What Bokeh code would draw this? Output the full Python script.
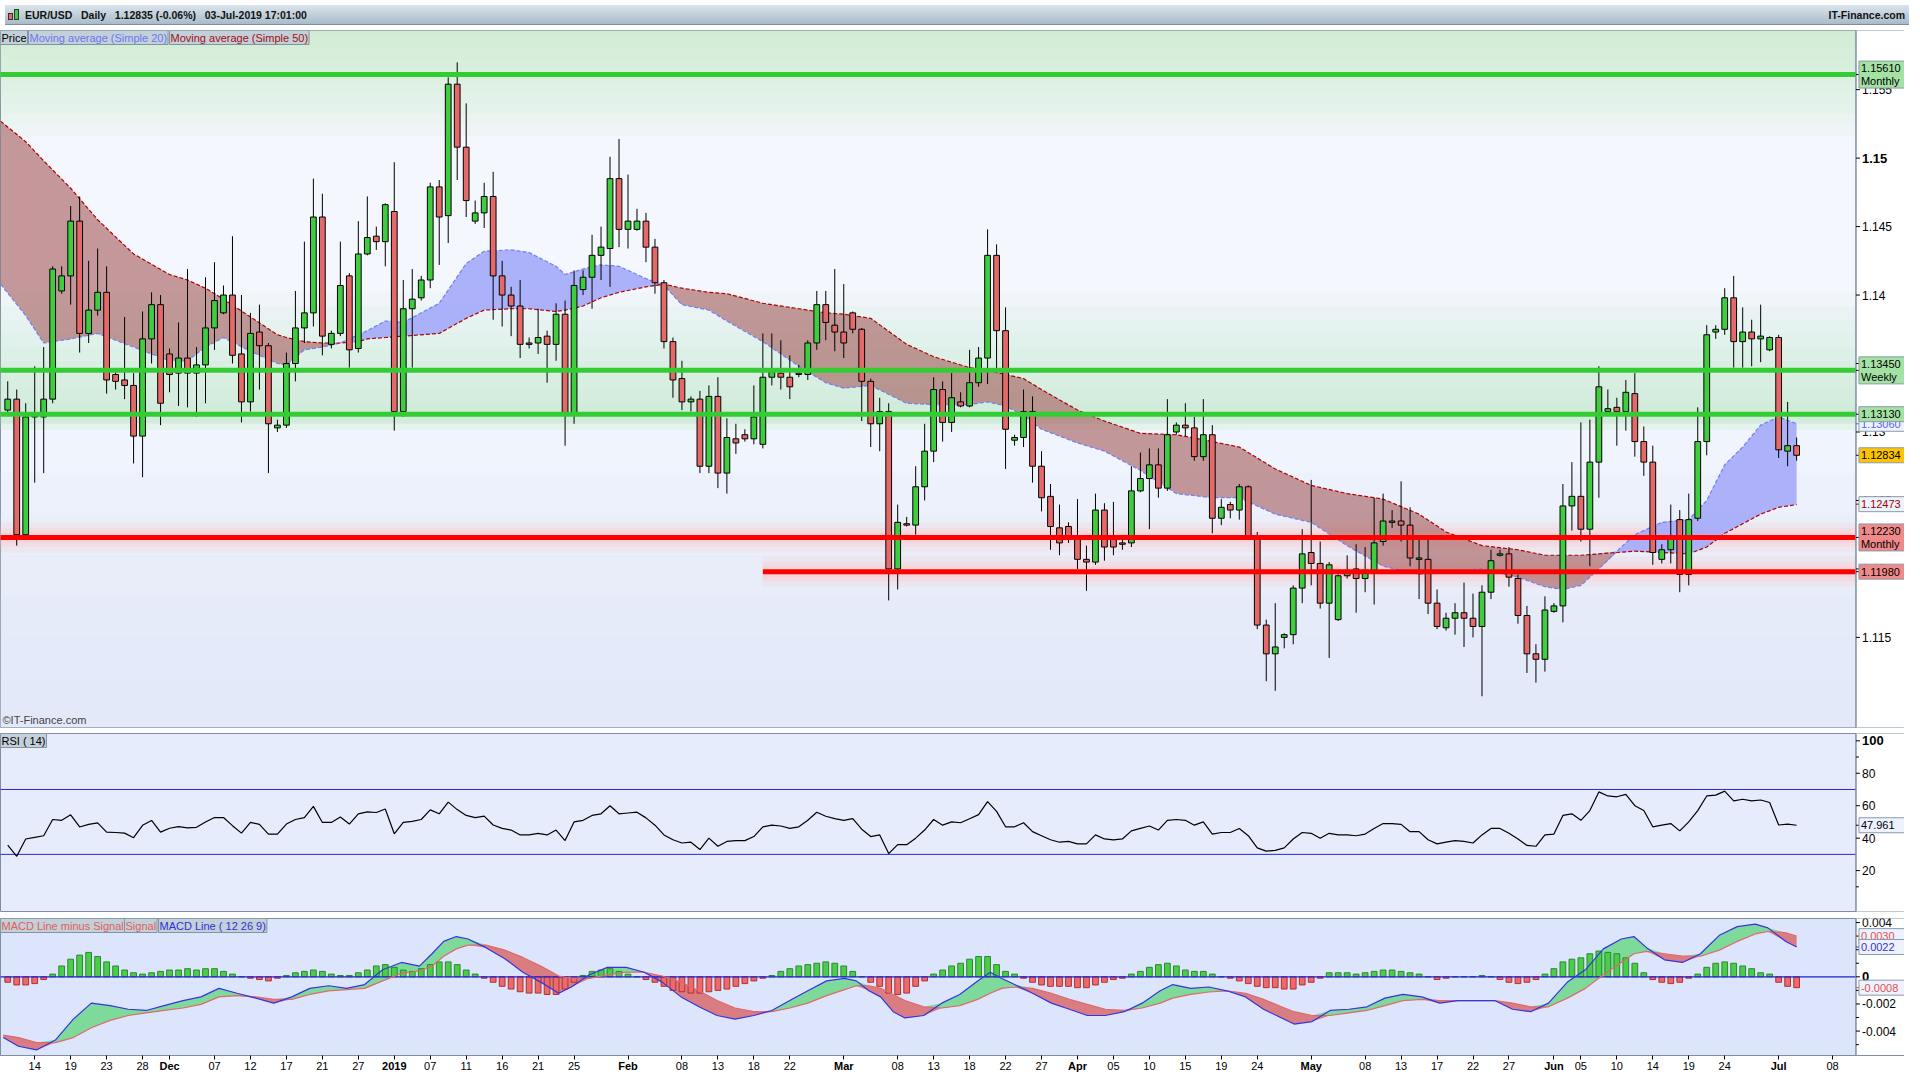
import numpy as np
from bokeh.plotting import figure
from bokeh.models import Range1d, Label, FixedTicker, Div, LinearAxis
from bokeh.layouts import column
from bokeh.embed import file_html
from bokeh.resources import INLINE
from bokeh.core.properties import value

# ---------------- data (EUR/USD daily, index = trading session) ----------------
open_p = [1.1316,1.1324,1.1225,1.1311,1.1311,1.1324,1.1403,1.1414,1.1454,1.1372,
          1.1389,1.1402,1.1342,1.1338,1.1334,1.1297,1.1368,1.1393,1.1357,1.1343,
          1.1354,1.1343,1.1349,1.1376,1.1387,1.1400,1.1357,1.1322,1.1373,1.1363,
          1.1303,1.1305,1.1350,1.1376,1.1387,1.1457,1.1364,1.1372,1.1414,1.1361,
          1.1430,1.1443,1.1439,1.1461,1.1315,1.1390,1.1398,1.1411,1.1479,1.1458,
          1.1554,1.1508,1.1454,1.1460,1.1472,1.1414,1.1400,1.1392,1.1365,1.1365,
          1.1370,1.1364,1.1386,1.1313,1.1404,1.1413,1.1429,1.1434,1.1485,1.1448,
          1.1448,1.1454,1.1435,1.1409,1.1366,1.1339,1.1322,1.1324,1.1275,1.1326,
          1.1270,1.1295,1.1298,1.1295,1.1291,1.1340,1.1343,1.1340,1.1343,1.1342,
          1.1365,1.1393,1.1378,1.1373,1.1387,1.1375,1.1337,1.1306,1.1315,1.1200,
          1.1233,1.1232,1.1260,1.1286,1.1331,1.1307,1.1322,1.1319,1.1336,1.1354,
          1.1429,1.1374,1.1294,1.1296,1.1315,1.1275,1.1253,1.1230,1.1231,1.1224,
          1.1207,1.1205,1.1243,1.1222,1.1219,1.1219,1.1257,1.1266,1.1276,1.1259,
          1.1300,1.1305,1.1303,1.1282,1.1298,1.1237,1.1247,1.1243,1.1260,1.1224,
          1.1159,1.1138,1.1150,1.1152,1.1186,1.1212,1.1204,1.1175,1.1163,1.1195,
          1.1200,1.1193,1.1199,1.1220,1.1234,1.1235,1.1232,1.1207,1.1207,1.1175,
          1.1157,1.1164,1.1168,1.1164,1.1158,1.1183,1.1210,1.1211,1.1193,1.1166,
          1.1138,1.1134,1.1169,1.1173,1.1246,1.1253,1.1229,1.1278,1.1315,1.1318,
          1.1315,1.1328,1.1293,1.1278,1.1207,1.1214,1.1236,1.1196,1.1237,1.1293,
          1.1373,1.1375,1.1398,1.1366,1.1373,1.1368,1.1360,1.1369,1.1286,1.1290]
high_p = [1.1337,1.1331,1.1321,1.1348,1.1362,1.1421,1.1421,1.1465,1.1472,1.1425,
          1.1434,1.1421,1.1345,1.1384,1.1343,1.1388,1.1402,1.1400,1.1361,1.1380,
          1.1419,1.1362,1.1413,1.1424,1.1407,1.1443,1.1400,1.1387,1.1393,1.1365,
          1.1309,1.1358,1.1403,1.1439,1.1485,1.1474,1.1374,1.1439,1.1416,1.1454,
          1.1472,1.1450,1.1467,1.1497,1.1411,1.1419,1.1414,1.1482,1.1484,1.1559,
          1.1570,1.1540,1.1469,1.1482,1.1490,1.1425,1.1406,1.1411,1.1369,1.1390,
          1.1374,1.1394,1.1396,1.1418,1.1418,1.1444,1.1450,1.1501,1.1514,1.1488,
          1.1463,1.1460,1.1441,1.1411,1.1369,1.1352,1.1326,1.1330,1.1334,1.1340,
          1.1310,1.1306,1.1302,1.1334,1.1372,1.1372,1.1367,1.1356,1.1349,1.1367,
          1.1403,1.1403,1.1419,1.1408,1.1388,1.1376,1.1339,1.1325,1.1321,1.1247,
          1.1238,1.1275,1.1306,1.1340,1.1337,1.1343,1.1329,1.1360,1.1362,1.1448,
          1.1437,1.1391,1.1298,1.1331,1.1326,1.1286,1.1262,1.1247,1.1234,1.1251,
          1.1217,1.1255,1.1248,1.1249,1.1224,1.1275,1.1285,1.1288,1.1288,1.1324,
          1.1307,1.1321,1.1311,1.1324,1.1305,1.1251,1.1249,1.1262,1.1261,1.1227,
          1.1163,1.1175,1.1153,1.1188,1.1229,1.1265,1.1220,1.1205,1.1196,1.1210,
          1.1218,1.1216,1.1252,1.1255,1.1243,1.1264,1.1245,1.1222,1.1222,1.1185,
          1.1168,1.1175,1.1190,1.1182,1.1188,1.1214,1.1214,1.1216,1.1196,1.1173,
          1.1145,1.1180,1.1175,1.1262,1.1278,1.1307,1.1309,1.1348,1.1331,1.1325,
          1.1338,1.1343,1.1304,1.1290,1.1218,1.1247,1.1243,1.1255,1.1318,1.1378,
          1.1378,1.1405,1.1414,1.1391,1.1382,1.1393,1.1370,1.1371,1.1322,1.1296]
low_p = [1.1314,1.1217,1.1224,1.1263,1.1270,1.1321,1.1401,1.1393,1.1358,1.1365,
         1.1385,1.1328,1.1331,1.1324,1.1277,1.1267,1.1350,1.1305,1.1329,1.1319,
         1.1318,1.1311,1.1321,1.1360,1.1386,1.1350,1.1307,1.1315,1.1331,1.1270,
         1.1300,1.1303,1.1337,1.1365,1.1377,1.1356,1.1361,1.1370,1.1347,1.1358,
         1.1429,1.1433,1.1421,1.1301,1.1311,1.1347,1.1396,1.1405,1.1422,1.1438,
         1.1484,1.1457,1.1452,1.1449,1.1382,1.1377,1.1370,1.1354,1.1361,1.1357,
         1.1336,1.1352,1.1290,1.1306,1.1400,1.1390,1.1411,1.1406,1.1435,1.1434,
         1.1447,1.1424,1.1401,1.1361,1.1325,1.1316,1.1315,1.1270,1.1270,1.1259,
         1.1255,1.1284,1.1293,1.1291,1.1288,1.1334,1.1331,1.1324,1.1340,1.1338,
         1.1360,1.1367,1.1359,1.1354,1.1372,1.1308,1.1289,1.1286,1.1177,1.1185,
         1.1231,1.1225,1.1250,1.1278,1.1293,1.1300,1.1318,1.1318,1.1333,1.1335,
         1.1343,1.1273,1.1290,1.1289,1.1263,1.1242,1.1214,1.1210,1.1219,1.1200,
         1.1184,1.1203,1.1206,1.1210,1.1214,1.1216,1.1256,1.1229,1.1252,1.1257,
         1.1298,1.1297,1.1279,1.1279,1.1226,1.1232,1.1237,1.1236,1.1222,1.1156,
         1.1118,1.1111,1.1142,1.1145,1.1175,1.1188,1.1171,1.1135,1.1162,1.1193,
         1.1168,1.1183,1.1174,1.1217,1.1230,1.1220,1.1202,1.1178,1.1167,1.1156,
         1.1155,1.1152,1.1143,1.1150,1.1107,1.1178,1.1209,1.1187,1.1160,1.1124,
         1.1117,1.1125,1.1168,1.1161,1.1228,1.1220,1.1202,1.1252,1.1313,1.1290,
         1.1301,1.1282,1.1268,1.1203,1.1204,1.1204,1.1183,1.1188,1.1235,1.1283,
         1.1368,1.1371,1.1347,1.1347,1.1348,1.1351,1.1359,1.1281,1.1275,1.1279]
close_p = [1.1324,1.1225,1.1311,1.1312,1.1324,1.1419,1.1414,1.1454,1.1372,1.1389,
           1.1402,1.1338,1.1337,1.1334,1.1297,1.1368,1.1393,1.1321,1.1342,1.1354,
           1.1343,1.1349,1.1376,1.1396,1.1400,1.1356,1.1322,1.1372,1.1363,1.1306,
           1.1305,1.1350,1.1376,1.1387,1.1457,1.1370,1.1372,1.1407,1.1360,1.1430,
           1.1442,1.1439,1.1466,1.1315,1.1390,1.1397,1.1411,1.1479,1.1457,1.1554,
           1.1508,1.1469,1.1460,1.1472,1.1414,1.1400,1.1392,1.1364,1.1364,1.1369,
           1.1364,1.1386,1.1314,1.1407,1.1413,1.1429,1.1435,1.1485,1.1448,1.1454,
           1.1454,1.1435,1.1409,1.1366,1.1338,1.1322,1.1324,1.1275,1.1326,1.1270,
           1.1296,1.1292,1.1295,1.1311,1.1340,1.1344,1.1340,1.1333,1.1342,1.1365,
           1.1393,1.1380,1.1373,1.1365,1.1375,1.1337,1.1306,1.1315,1.1200,1.1234,
           1.1232,1.1260,1.1286,1.1331,1.1307,1.1325,1.1319,1.1336,1.1354,1.1429,
           1.1374,1.1302,1.1296,1.1315,1.1275,1.1252,1.1231,1.1219,1.1224,1.1207,
           1.1205,1.1243,1.1216,1.1216,1.1218,1.1257,1.1266,1.1276,1.1259,1.1298,
           1.1305,1.1303,1.1282,1.1298,1.1237,1.1245,1.1243,1.1260,1.1224,1.1159,
           1.1138,1.1143,1.1152,1.1186,1.1211,1.1204,1.1175,1.1203,1.1195,1.1197,
           1.1193,1.1199,1.1219,1.1235,1.1235,1.1232,1.1208,1.1208,1.1175,1.1158,
           1.1164,1.1168,1.1164,1.1158,1.1183,1.1206,1.1211,1.1194,1.1166,1.1138,
           1.1134,1.1170,1.1173,1.1246,1.1253,1.1229,1.1278,1.1333,1.1317,1.1315,
           1.1329,1.1293,1.1278,1.1212,1.1214,1.1222,1.1196,1.1236,1.1293,1.1371,
           1.1375,1.1398,1.1366,1.1373,1.1368,1.1370,1.1369,1.1287,1.1290,1.1283]

# moving averages read at these session positions
ma_idx = [-0.8,2,4,7,10,14,18,20,22,24,27,30,31,33,35,37,39,40,42,44,
          48,51,53,56,58,61,62,64,66,68,71,73,75,78,80,84,88,91,93,96,
          100,103,107,109,111,113,115,119,122,126,130,134,137,141,145,149,153,157,160,164,
          168,171,173,175,177,179,181,184,187,189,191,193,195,197,199]
ma20 = [1.1408,1.1385,1.1365,1.1368,1.1372,1.1362,1.1352,1.1352,1.1362,1.1369,
        1.1359,1.1350,1.1349,1.1360,1.1362,1.1365,1.1371,1.1374,1.1381,1.1380,
        1.1394,1.1423,1.1432,1.1433,1.1431,1.1421,1.1415,1.1419,1.1422,1.1421,
        1.1412,1.1407,1.1393,1.1389,1.1381,1.1366,1.1348,1.1336,1.1332,1.1334,
        1.1321,1.1320,1.1320,1.1322,1.1319,1.1312,1.1302,1.1292,1.1286,1.1272,
        1.1255,1.1252,1.1252,1.1240,1.1234,1.1217,1.1202,1.1196,1.1198,1.1200,
        1.1194,1.1187,1.1185,1.1188,1.1200,1.1213,1.1225,1.1234,1.1236,1.1250,
        1.1276,1.1289,1.1305,1.1311,1.1306]
ma50 = [1.1527,1.1512,1.1498,1.1478,1.1455,1.1430,1.1415,1.1411,1.1405,1.1397,
        1.1384,1.1371,1.1369,1.1366,1.1365,1.1365,1.1366,1.1368,1.1369,1.1370,
        1.1372,1.1383,1.1389,1.1390,1.1390,1.1388,1.1389,1.1392,1.1398,1.1402,
        1.1406,1.1408,1.1405,1.1402,1.1401,1.1394,1.1390,1.1387,1.1386,1.1383,
        1.1364,1.1355,1.1347,1.1345,1.1342,1.1339,1.1331,1.1316,1.1308,1.1299,
        1.1298,1.1293,1.1289,1.1273,1.1261,1.1255,1.1251,1.1240,1.1227,1.1217,
        1.1214,1.1210,1.1210,1.1210,1.1211,1.1212,1.1213,1.1212,1.1211,1.1216,
        1.1226,1.1233,1.1240,1.1245,1.1247]

levels_green = [1.1561, 1.1345, 1.1313]
levels_red = [1.1223, 1.1198]

rsi = [35.7,28.8,39.5,40.5,41.5,51.5,51.0,54.4,46.9,48.5,
       49.4,43.7,43.5,43.1,40.3,47.9,50.9,43.7,46.1,47.1,
       46.3,46.7,50.0,52.7,52.7,47.7,43.1,49.7,48.5,42.5,
       42.5,48.7,51.5,52.7,59.6,49.7,49.7,53.0,48.7,55.0,
       56.2,55.8,58.0,42.7,49.7,50.3,51.5,57.4,55.0,62.2,
       57.6,54.0,52.7,53.6,48.1,46.0,45.0,42.0,42.0,43.0,
       42.0,45.0,38.5,50.0,51.0,54.0,55.0,60.0,55.0,55.5,
       56.0,52.5,48.0,42.0,39.0,37.0,37.5,33.0,40.0,35.0,
       38.0,38.5,38.5,41.0,47.0,48.0,47.5,46.0,47.0,51.0,
       56.0,53.5,52.0,51.0,52.0,45.5,41.0,42.0,30.5,36.0,
       36.0,40.0,45.0,51.5,48.0,50.0,49.5,52.0,54.5,62.5,
       56.5,47.0,47.0,49.5,44.0,41.5,39.0,37.5,38.0,36.5,
       36.5,42.0,39.5,39.0,39.5,44.5,46.0,47.5,45.0,51.0,
       51.5,51.0,48.0,50.0,42.5,43.5,43.5,46.0,41.5,34.0,
       32.0,32.5,34.0,39.5,43.5,43.0,40.0,43.0,42.0,42.0,
       41.5,42.5,46.0,49.0,49.0,48.5,44.0,44.0,39.0,36.5,
       37.5,38.5,38.0,37.0,42.0,46.0,46.0,43.0,39.5,35.5,
       35.0,42.0,42.5,54.0,55.0,51.0,57.0,68.5,66.0,65.5,
       67.0,60.0,57.0,47.0,48.0,49.0,44.5,50.0,57.0,66.0,
       66.5,69.0,63.0,64.0,63.0,63.5,62.0,48.1,48.7,47.96]

# MACD (12 26 9): lines read at these session positions
macd_idx = [-0.5,1.2,3.2,5.3,7.3,9.3,11.4,13.4,15.4,17.4,19.5,21.5,23.5,25.5,27.6,29.6,31.6,33.6,35.7,37.7,
            39.7,41.7,43.8,45.8,47.2,48.5,49.9,51.2,53.2,55.3,57.3,59.3,61.3,62.7,64.7,66.7,68.8,70.8,72.8,74.9,
            76.9,78.9,80.9,83.0,85.0,87.0,89.0,91.1,93.1,94.4,95.8,97.1,98.5,99.8,101.9,103.9,105.9,107.9,109.3,110.6,
            112.0,114.0,116.1,118.1,120.1,122.1,124.2,126.2,128.2,129.6,131.6,133.6,135.6,137.7,139.7,141.7,143.1,145.1,147.1,149.2,
            151.2,153.2,155.2,157.3,159.3,161.3,163.3,165.4,167.4,169.4,171.4,173.5,175.5,177.5,179.5,180.9,182.3,184.3,186.3,188.3,
            190.4,192.4,194.4,195.8,197.8,199.0]
macd_line = [-0.00448,-0.00512,-0.00539,-0.00466,-0.00312,-0.00194,-0.00212,-0.00239,-0.00248,-0.00212,
             -0.00175,-0.00148,-0.00085,-0.00121,-0.00157,-0.00194,-0.00148,-0.00085,-0.00066,-0.00085,
             -0.00057,0.00052,0.00106,0.00079,0.00170,0.00261,0.00297,0.00279,0.00215,0.00134,
             0.00034,-0.00039,-0.00121,-0.00075,0.00015,0.00070,0.00070,0.00034,-0.00039,-0.00148,
             -0.00221,-0.00285,-0.00312,-0.00285,-0.00248,-0.00175,-0.00103,-0.00030,-0.00012,-0.00030,
             -0.00103,-0.00148,-0.00257,-0.00303,-0.00285,-0.00194,-0.00130,-0.00030,0.00034,-0.00012,
             -0.00057,-0.00121,-0.00194,-0.00239,-0.00285,-0.00285,-0.00257,-0.00194,-0.00103,-0.00057,
             -0.00085,-0.00075,-0.00103,-0.00148,-0.00239,-0.00303,-0.00348,-0.00330,-0.00248,-0.00239,
             -0.00221,-0.00157,-0.00130,-0.00148,-0.00194,-0.00175,-0.00175,-0.00175,-0.00239,-0.00257,
             -0.00194,-0.00039,0.00052,0.00206,0.00279,0.00297,0.00215,0.00125,0.00106,0.00170,
             0.00306,0.00370,0.00388,0.00361,0.00261,0.00220]
signal_line = [-0.00430,-0.00448,-0.00485,-0.00485,-0.00448,-0.00375,-0.00321,-0.00285,-0.00266,-0.00248,
               -0.00230,-0.00203,-0.00148,-0.00139,-0.00148,-0.00166,-0.00166,-0.00130,-0.00103,-0.00094,
               -0.00085,-0.00030,0.00025,0.00043,0.00079,0.00152,0.00206,0.00234,0.00234,0.00197,
               0.00143,0.00079,0.00006,-0.00012,-0.00012,0.00015,0.00034,0.00034,0.00006,-0.00039,
               -0.00103,-0.00175,-0.00230,-0.00257,-0.00257,-0.00230,-0.00194,-0.00139,-0.00094,-0.00066,
               -0.00066,-0.00085,-0.00130,-0.00175,-0.00221,-0.00230,-0.00212,-0.00166,-0.00121,-0.00085,
               -0.00075,-0.00085,-0.00121,-0.00166,-0.00203,-0.00239,-0.00248,-0.00230,-0.00194,-0.00157,
               -0.00130,-0.00112,-0.00103,-0.00121,-0.00166,-0.00221,-0.00257,-0.00285,-0.00285,-0.00266,
               -0.00248,-0.00212,-0.00175,-0.00166,-0.00175,-0.00175,-0.00175,-0.00175,-0.00194,-0.00221,
               -0.00221,-0.00157,-0.00085,0.00015,0.00106,0.00170,0.00188,0.00170,0.00152,0.00152,
               0.00197,0.00261,0.00316,0.00334,0.00325,0.00300]
macd_hist = [-0.0004,-0.0006,-0.0006,-0.0005,-0.0002,0.0002,0.0008,0.0013,0.0016,0.0018,
             0.0015,0.0011,0.0008,0.0005,0.0003,0.0002,0.0003,0.0004,0.0005,0.0005,
             0.0006,0.0005,0.0006,0.0006,0.0004,0.0002,0.0000,-0.0001,-0.0002,-0.0003,
             -0.0001,0.0001,0.0003,0.0004,0.0005,0.0004,0.0002,0.0001,0.0001,0.0003,
             0.0005,0.0008,0.0009,0.0007,0.0005,0.0004,0.0006,0.0009,0.0011,0.0011,
             0.0009,0.0005,0.0002,-0.0001,-0.0004,-0.0007,-0.0009,-0.0011,-0.0012,-0.0012,
             -0.0013,-0.0013,-0.0009,-0.0004,0.0001,0.0004,0.0005,0.0006,0.0004,0.0002,
             0.0000,-0.0002,-0.0004,-0.0007,-0.0010,-0.0011,-0.0012,-0.0012,-0.0011,-0.0010,
             -0.0009,-0.0007,-0.0005,-0.0003,-0.0001,0.0001,0.0004,0.0006,0.0008,0.0009,
             0.0010,0.0011,0.0010,0.0008,0.0004,0.0000,-0.0004,-0.0007,-0.0012,-0.0013,
             -0.0012,-0.0007,-0.0003,0.0002,0.0005,0.0008,0.0010,0.0013,0.0015,0.0015,
             0.0009,0.0004,0.0002,-0.0001,-0.0004,-0.0006,-0.0007,-0.0007,-0.0007,-0.0008,
             -0.0008,-0.0006,-0.0004,-0.0002,-0.0001,0.0002,0.0004,0.0007,0.0009,0.0010,
             0.0008,0.0005,0.0004,0.0004,0.0002,0.0000,-0.0001,-0.0003,-0.0005,-0.0007,
             -0.0008,-0.0008,-0.0009,-0.0009,-0.0006,-0.0004,-0.0001,0.0003,0.0003,0.0003,
             0.0002,0.0003,0.0004,0.0005,0.0005,0.0004,0.0003,0.0002,0.0000,-0.0002,
             -0.0001,0.0000,0.0000,0.0000,0.0001,0.0000,-0.0002,-0.0004,-0.0005,-0.0004,
             -0.0002,0.0002,0.0006,0.0011,0.0013,0.0014,0.0017,0.0019,0.0018,0.0017,
             0.0014,0.0010,0.0003,-0.0002,-0.0004,-0.0005,-0.0004,-0.0001,0.0002,0.0007,
             0.0010,0.0011,0.0010,0.0008,0.0006,0.0003,0.0002,-0.0004,-0.0007,-0.0008]

tick_pos = [3,7,11,15,18,23,27,31,35,39,43,47,51,55,59,63,69,75,79,83,87,93,99,103,107,111,115,
            119,123,127,131,135,139,145,151,155,159,163,167,172,175,179,183,187,191,197,203]
tick_lab = ["14","19","23","28","Dec","07","12","17","21","27","2019","07","11","16","21","25",
            "Feb","08","13","18","22","Mar","08","13","18","22","27","Apr","05","10","15","19","24",
            "May","08","13","17","22","27","Jun","05","10","14","19","24","Jul","08"]
month_labels = {"Dec", "2019", "Feb", "Mar", "Apr", "May", "Jun", "Jul"}

price_ticks = [1.115, 1.12, 1.125, 1.13, 1.135, 1.14, 1.145, 1.15, 1.155]
price_tick_lab = ["1.115", "1.12", "1.125", "1.13", "1.135", "1.14", "1.145", "1.15", "1.155"]
rsi_ticks = [20, 40, 60, 80, 100]
rsi_tick_lab = ["20", "40", "60", "80", "100"]
macd_ticks = [-0.004, -0.002, 0.0, 0.002, 0.004]
macd_tick_lab = ["-0.004", "-0.002", "0", "0.002", "0.004"]

# ---------------- layout constants ----------------
W = 1904
FONT = "Liberation Sans"
X0, XS, XR = -0.805, 205.6, 211.0          # plot area ends at XS; value strip from XS to XR
UX = W / (XR - X0)                          # pixels per session
GRAY = "#7f8f9f"
xr = Range1d(X0, XR)


def strip(p, ylo, yhi, ticks, labels, bold, minor, boxes, py):
    """value strip on the right: white band, border, ticks, tick labels, value boxes"""
    p.quad(left=XS, right=XR + 2, bottom=ylo - (yhi - ylo), top=yhi + (yhi - ylo),
           fill_color="white", line_alpha=0)
    p.segment(x0=XS, y0=ylo - (yhi - ylo), x1=XS, y1=yhi + (yhi - ylo), line_color=GRAY, line_width=1.5)
    p.segment(x0=[XS] * len(ticks), y0=ticks, x1=[XS + 4 / UX] * len(ticks), y1=ticks,
              line_color="black", line_width=1)
    if minor:
        p.segment(x0=[XS] * len(minor), y0=minor, x1=[XS + 3 / UX] * len(minor), y1=minor,
                  line_color="black", line_width=1)
    norm = [(t, s) for t, s in zip(ticks, labels) if s not in bold]
    strong = [(t, s) for t, s in zip(ticks, labels) if s in bold]
    p.text(x=[XS + 6 / UX] * len(norm), y=[t for t, _ in norm], text=[s for _, s in norm],
           text_font=value(FONT), text_font_size=value("12px"), text_color="black",
           text_baseline="middle", text_align="left")
    if strong:
        p.text(x=[XS + 6 / UX] * len(strong), y=[t for t, _ in strong], text=[s for _, s in strong],
               text_font=value(FONT), text_font_size=value("13px"), text_font_style="bold",
               text_color="black", text_baseline="middle", text_align="left")
    for yv, t1, t2, bg, fg in boxes:
        hgt = 27 if t2 else 15
        p.segment(x0=XS, y0=yv, x1=XS + 3 / UX, y1=yv, line_color=fg, line_width=1)
        p.rect(x=XS + (3 + 23) / UX, y=yv, width=46, height=hgt, width_units="screen",
               height_units="screen", fill_color=bg, line_color="#8a9aaa", line_width=1)
        if t2:
            p.text(x=[XS + 5 / UX] * 2, y=[yv + 6.5 * py, yv - 6.5 * py], text=[t1, t2],
                   text_font=value(FONT), text_font_size=value("11px"), text_color=fg,
                   text_baseline="middle", text_align="left")
        else:
            p.text(x=[XS + 5 / UX], y=[yv], text=[t1], text_font=value(FONT),
                   text_font_size=value("11px"), text_color=fg, text_baseline="middle",
                   text_align="left")


def legend(p, ytop, items):
    x = 0
    for text, color, w in items:
        p.add_layout(Label(x=x, y=ytop, x_units="screen", text=text, text_font=FONT,
                           text_font_size="11px", text_color=color, text_baseline="top",
                           background_fill_color="#c3cfd9", border_line_color="#8494a2", padding=1))
        x += w


def panel(height, yr, bg, top, xaxis=False):
    p = figure(width=W, height=height, x_range=xr, y_range=yr,
               x_axis_location="below" if xaxis else None, y_axis_location=None,
               output_backend="svg", toolbar_location=None, min_border_left=0,
               min_border_right=0, min_border_top=top, min_border_bottom=0 if xaxis else 3,
               background_fill_color=bg, border_fill_color="white", outline_line_color=GRAY)
    p.grid.visible = False
    return p


# header
header = Div(text=(
    "<div style='display:flex;justify-content:space-between;align-items:center;height:20px;"
    "width:1904px;box-sizing:border-box;padding:0 4px 0 3px;font:bold 10.5px \"Liberation Sans\";"
    "background:linear-gradient(#dbe4ec,#a9bbca);border-bottom:1px solid #7f8f9f;color:#111'>"
    "<span><span style='display:inline-block;width:5px;height:7px;background:#e46a6a;border:1px solid #333;"
    "margin-right:1px;vertical-align:-1px'></span><span style='display:inline-block;width:5px;height:11px;"
    "background:#3fcc3f;border:1px solid #333;margin-right:6px;vertical-align:-1px'></span>"
    "EUR/USD&nbsp;&nbsp;&nbsp;Daily&nbsp;&nbsp;&nbsp;1.12835 (-0.06%)&nbsp;&nbsp;&nbsp;03-Jul-2019 17:01:00</span>"
    "<span>IT-Finance.com</span></div>"), width=W, height=20)

# ---------------- price panel ----------------
YP0, YP1 = 1.10842, 1.15932
PH = 700
pp = panel(PH, Range1d(YP0, YP1), "#f4f7fd", 0)
PY = (YP1 - YP0) / (PH - 3)

for t in [1.1300, 1.1270, 1.1240, 1.1210, 1.1180, 1.1150, 1.1120]:
    pp.quad(left=-5, right=XS, bottom=1.1080, top=t, fill_color="#dce3fb", fill_alpha=0.15, line_alpha=0)
for b in [1.1588, 1.1580, 1.1572, 1.1564, 1.1556, 1.1548, 1.1540, 1.1532, 1.1524, 1.1516]:
    pp.quad(left=-5, right=XS, bottom=b, top=1.1600, fill_color="#c4eac4", fill_alpha=0.10, line_alpha=0)
for t in [1.1402, 1.1392, 1.1382, 1.1372, 1.1362, 1.1352, 1.1342, 1.1332, 1.1322]:
    pp.quad(left=-5, right=XS, bottom=1.1306, top=t, fill_color="#bde5c3", fill_alpha=0.085, line_alpha=0)
pp.quad(left=-5, right=XS, bottom=1.1301, top=1.1306, fill_color="#c8e9cf", fill_alpha=0.3, line_alpha=0)
for lv, x0 in zip(levels_red, [-5, 84]):
    for hw, a in [(0.0011, 0.2), (0.0007, 0.25), (0.0004, 0.3)]:
        pp.quad(left=x0, right=XS, bottom=lv - hw, top=lv + hw, fill_color="#ffc4c4", fill_alpha=a, line_alpha=0)

# moving-average ribbon
mi = np.array(ma_idx)
m20 = np.array(ma20)
m50 = np.array(ma50)
pp.varea(x=mi, y1=m50, y2=np.maximum(m20, m50), fill_color="#a4aaf8", fill_alpha=0.9)
pp.varea(x=mi, y1=np.minimum(m20, m50), y2=m50, fill_color="#a65e5e", fill_alpha=0.62)
pp.line(mi, m20, line_color="#6f7ff5", line_width=1.2, line_dash="4 2")
pp.line(mi, m50, line_color="#b00000", line_width=1.2, line_dash="4 2")

# candles
idx = np.arange(len(close_p))
o = np.array(open_p); c = np.array(close_p); h = np.array(high_p); l = np.array(low_p)
up = c >= o
pp.segment(idx, h, idx, l, line_color="black", line_width=1)
pp.vbar(x=idx[up], top=c[up], bottom=o[up], width=0.64, fill_color="#3fcc3f", line_color="black", line_width=1)
pp.vbar(x=idx[~up], top=o[~up], bottom=c[~up], width=0.64, fill_color="#e46a6a", line_color="black", line_width=1)

# support / resistance levels
pp.segment(x0=[-5] * 3, y0=levels_green, x1=[XS] * 3, y1=levels_green, line_color="#33cc33", line_width=5)
pp.segment(x0=[-5, 84], y0=levels_red, x1=[XS, XS], y1=levels_red, line_color="#ff0000", line_width=5)

strip(pp, YP0, YP1, price_ticks, price_tick_lab, {"1.15"}, [],
      [(1.1561, "1.15610", "Monthly", "#a4e2a4", "black"),
       (1.1345, "1.13450", "Weekly", "#a4e2a4", "black"),
       (1.1306, "1.13060", None, "#eef2ff", "#5a64f0"),
       (1.1313, "1.13130", None, "#a4e2a4", "black"),
       (close_p[-1], "1.12834", None, "#ffc400", "black"),
       (1.12473, "1.12473", None, "#eef2fb", "#a00000"),
       (1.1223, "1.12230", "Monthly", "#f08a8a", "black"),
       (1.1198, "1.11980", None, "#f08a8a", "black")], PY)
legend(pp, YP1, [("Price", "black", 28), ("Moving average (Simple 20)", "#6a78f2", 141),
                 ("Moving average (Simple 50)", "#a01010", 141)])
pp.add_layout(Label(x=2, y=YP0, x_units="screen", y_offset=2, text="\u00a9IT-Finance.com",
                    text_font=FONT, text_font_size="11px", text_baseline="bottom"))

# ---------------- RSI panel ----------------
RY0, RY1 = -5.2, 104.5
RH = 184
pr = panel(RH, Range1d(RY0, RY1), "#e6ecfc", 3)
pr.segment(x0=[-5, -5], y0=[70, 30], x1=[XS, XS], y1=[70, 30], line_color="#2a2ad0", line_width=1)
pr.line(idx, rsi, line_color="black", line_width=1.2)
strip(pr, RY0, RY1, rsi_ticks, rsi_tick_lab, {"100"}, [10, 90],
      [(rsi[-1], "47.961", None, "#eef2ff", "black")], (RY1 - RY0) / (RH - 6))
legend(pr, RY1, [("RSI ( 14)", "black", 48)])

# ---------------- MACD panel ----------------
MY0, MY1 = -0.0058, 0.0043
MH = 160
pm = panel(MH, Range1d(MY0, MY1), "#dce5fb", 4, xaxis=True)
mx = np.array(macd_idx)
ml = np.array(macd_line)
sl = np.array(signal_line)
pm.varea(x=mx, y1=sl, y2=np.maximum(ml, sl), fill_color="#5fd67a", fill_alpha=0.75)
pm.varea(x=mx, y1=np.minimum(ml, sl), y2=sl, fill_color="#d95a5a", fill_alpha=0.75)
hv = np.array(macd_hist)
pos = hv >= 0
pm.vbar(x=idx[pos], top=hv[pos], bottom=0, width=0.64, fill_color="#4ccc4c", line_color="#2a8a2a")
pm.vbar(x=idx[~pos], top=0, bottom=hv[~pos], width=0.64, fill_color="#ec6a6a", line_color="#b03030")
pm.segment(x0=-5, y0=0, x1=XS, y1=0, line_color="#2020d0", line_width=1.2)
pm.line(mx, sl, line_color="#e06a6a", line_width=1.2)
pm.line(mx, ml, line_color="#3434e6", line_width=1.2)
strip(pm, MY0, MY1, macd_ticks, macd_tick_lab, {"0"}, [-0.005, -0.003, -0.001, 0.001, 0.003],
      [(0.0030, "0.0030", None, "#eef2ff", "#e05050"),
       (0.0022, "0.0022", None, "#eef2ff", "#3030e0"),
       (-0.0008, "-0.0008", None, "#eef2ff", "#e05050")], (MY1 - MY0) / (MH - 26))
legend(pm, MY1, [("MACD Line minus Signal", "#e06060", 124), ("Signal", "#e06060", 34),
                 ("MACD Line ( 12 26 9)", "#3030d8", 108)])

# date axis: day numbers in regular weight, month names in bold on an overlaid axis
xa = pm.xaxis[0]
xa.ticker = FixedTicker(ticks=tick_pos)
xa.major_label_overrides = {t: ("" if s in month_labels else s) for t, s in zip(tick_pos, tick_lab)}
xa.axis_line_color = GRAY
xa.major_tick_line_color = "black"
xa.major_tick_in = 0
xa.major_tick_out = 4
xa.minor_tick_line_color = None
xa.major_label_standoff = 2
xa.major_label_text_font = FONT
xa.major_label_text_font_size = "11px"
xa.major_label_text_color = "black"

mpos = [t for t, s in zip(tick_pos, tick_lab) if s in month_labels]
ma_ax = LinearAxis(ticker=FixedTicker(ticks=mpos),
                   major_label_overrides={t: s for t, s in zip(tick_pos, tick_lab) if s in month_labels},
                   axis_line_color=None, major_tick_line_color=None, minor_tick_line_color=None,
                   major_tick_out=0, major_tick_in=0, major_label_standoff=-13,
                   major_label_text_font=FONT, major_label_text_font_size="11px",
                   major_label_text_font_style="bold", major_label_text_color="black")
pm.add_layout(ma_ax, "below")

layout = column(header, pp, pr, pm, spacing=0)
open("out.html", "w").write(file_html(layout, INLINE, title="EUR/USD Daily"))
